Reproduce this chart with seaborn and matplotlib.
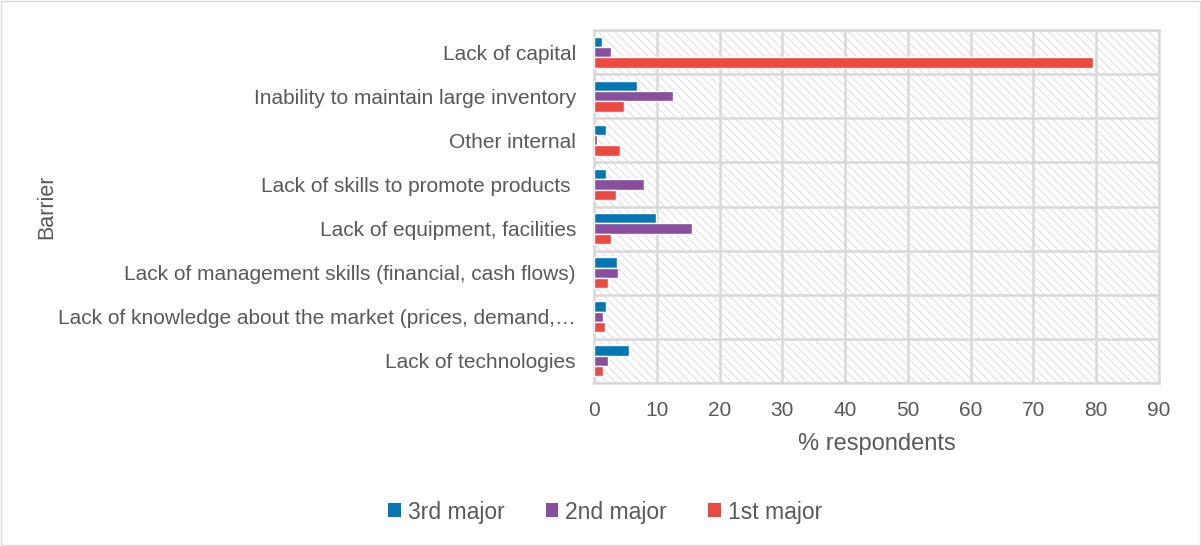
import matplotlib
matplotlib.use("Agg")
import matplotlib.pyplot as plt
from matplotlib.patches import Rectangle, Patch
import seaborn as sns
import pandas as pd

barriers = [
    "Lack of capital",
    "Inability to maintain large inventory",
    "Other internal",
    "Lack of skills to promote products ",
    "Lack of equipment, facilities",
    "Lack of management skills (financial, cash flows)",
    "Lack of knowledge about the market (prices, demand,\u2026",
    "Lack of technologies",
]
third_major = [1.2, 6.8, 1.9, 1.9, 9.9, 3.7, 1.9, 5.6]
second_major = [2.7, 12.6, 0.5, 7.9, 15.6, 3.8, 1.4, 2.3]
first_major = [79.5, 4.7, 4.1, 3.5, 2.7, 2.3, 1.8, 1.4]
series_names = ["3rd major", "2nd major", "1st major"]
palette = ["#0078B8", "#8A4E9E", "#F0483E"]
x_ticks = list(range(0, 91, 10))

rows = []
for name, vals in zip(series_names, [third_major, second_major, first_major]):
    for b, v in zip(barriers, vals):
        rows.append({"Barrier": b, "Rank": name, "Value": v})
df = pd.DataFrame(rows)

sns.set_theme(style="white")
plt.rcParams["font.family"] = ["Liberation Sans", "DejaVu Sans"]
plt.rcParams["hatch.linewidth"] = 0.7
text_color = "#595959"
grid_color = "#D9D9D9"

fig = plt.figure(figsize=(12.01, 5.46), dpi=100)
ax = fig.add_axes([594 / 1201, 1 - 383 / 546, (1159 - 594) / 1201, (383 - 30) / 546])

# hatched plot-area background
ax.add_patch(Rectangle((0, 0), 1, 1, transform=ax.transAxes, facecolor="white",
                       edgecolor="#DEDEDE", hatch="\\\\\\\\", linewidth=0, zorder=0))

sns.barplot(data=df, y="Barrier", x="Value", hue="Rank", order=barriers,
            hue_order=series_names, palette=palette, orient="h", width=0.7,
            saturation=1, ax=ax, legend=False, zorder=3)

ax.set_xlim(0, 90)
ax.set_ylim(len(barriers) - 0.5, -0.5)
ax.set_xticks(x_ticks)
ax.set_xticklabels([str(t) for t in x_ticks], fontsize=15, color=text_color)
ax.tick_params(axis="y", labelsize=15, labelcolor=text_color, length=0, pad=13)
ax.tick_params(axis="x", length=0, pad=13)

for t in x_ticks:
    ax.axvline(t, color=grid_color, linewidth=1.8, zorder=1)
for i in range(len(barriers) + 1):
    ax.axhline(i - 0.5, color=grid_color, linewidth=1.8, zorder=1)
for s in ax.spines.values():
    s.set_color(grid_color)
    s.set_linewidth(1.8)

ax.set_xlabel("% respondents", fontsize=17, color=text_color, labelpad=9)
ax.set_ylabel("")
fig.text(47 / 1201, 1 - 207 / 546, "Barrier", rotation=90, fontsize=15.5,
         color=text_color, ha="center", va="center")

handles = [Patch(facecolor=c, edgecolor="none") for c in palette]
fig.legend(handles, series_names, loc="center", bbox_to_anchor=(605 / 1201, 1 - 512 / 546),
           ncol=3, frameon=False, fontsize=16.5, labelcolor=text_color,
           handlelength=0.55, handleheight=0.55, handletextpad=0.3, columnspacing=1.8)

fig.patches.append(Rectangle((0.0005, 0.001), 0.999, 0.998, transform=fig.transFigure,
                             fill=False, edgecolor="#D9D9D9", linewidth=1))

fig.savefig("out.png", dpi=100)
